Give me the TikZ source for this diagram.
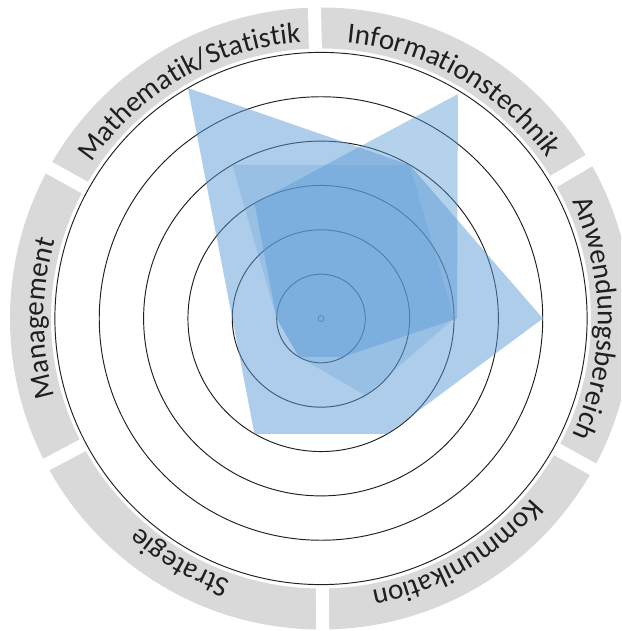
\documentclass[tikz,border=0pt]{standalone}
\usepackage{fontspec}
\setmainfont{Carlito}
\usetikzlibrary{decorations.text}
\definecolor{bandgray}{HTML}{D9D9D9}
\definecolor{serblue}{HTML}{5B9BD5}
\definecolor{txt}{HTML}{1F1F1F}
\definecolor{ringcol}{HTML}{202020}
\newcommand\labfont{\fontsize{29}{30}\selectfont}
\begin{document}
\begin{tikzpicture}[x=1pt,y=1pt,
  ring/.style={draw=ringcol, line width=0.95pt},
  gapline/.style={draw=white, line width=13pt},
  seriesA/.style={fill=serblue, fill opacity=0.5, draw=none},
  seriesB/.style={fill=serblue, fill opacity=0.45, draw=none},
  seriesC/.style={fill=serblue, fill opacity=0.25, draw=none},
  lab/.style={decorate, decoration={text along path, text align=center, text color=txt}}]
\useasboundingbox (-321,-312.5) rectangle (300,318.5);
\begin{scope}
\clip (-321,-312.5) rectangle (300,318.5);
% grey band
\fill[bandgray, even odd rule] (0,0) circle[radius=311] (0,0) circle[radius=270];
\foreach \a in {30.5,91.2,151,208,270.3,331} \draw[gapline] (\a:268) -- (\a:335);
% rings
\foreach \k in {1,...,6} \draw[ring] (0,0) circle[radius=\k*44.35];
\draw[ring, line width=0.6pt] (0,0) circle[radius=3];
\coordinate (c) at (0,0);
% series
\path[seriesA] (120:266.1) -- (60:177.4) -- (0:221.8) -- (-60:133.1) -- (240:133.1) -- (180:88.7) -- cycle;
\path[seriesB] (120:133.1) -- (137,224.5) -- (0:136) -- (-60:44.35) -- (240:44.35) -- (180:44.35) -- cycle;
\path[seriesC] (120:177.4) -- (60:177.4) -- (0:133.1) -- (-60:88.7) -- (240:44.35) -- (180:44.35) -- cycle;
% labels
\path[lab, decoration={text={|\labfont|Informationstechnik}}] (90:277) arc[start angle=90, end angle=30, radius=277];
\path[lab, decoration={text={|\labfont|Mathematik/Statistik}}] (150:277) arc[start angle=150, end angle=90, radius=277];
\path[lab, decoration={text={|\labfont|Management}}] (210:277) arc[start angle=210, end angle=150, radius=277];
\path[lab, decoration={text={|\labfont|Strategie}}] (270:277) arc[start angle=270, end angle=210, radius=277];
\path[lab, decoration={text={|\labfont|Kommunikation}}] (330:277) arc[start angle=330, end angle=270, radius=277];
\path[lab, decoration={text={|\labfont|Anwendungsbereich}}] (30:277) arc[start angle=30, end angle=-30, radius=277];
\end{scope}
\end{tikzpicture}
\end{document}
